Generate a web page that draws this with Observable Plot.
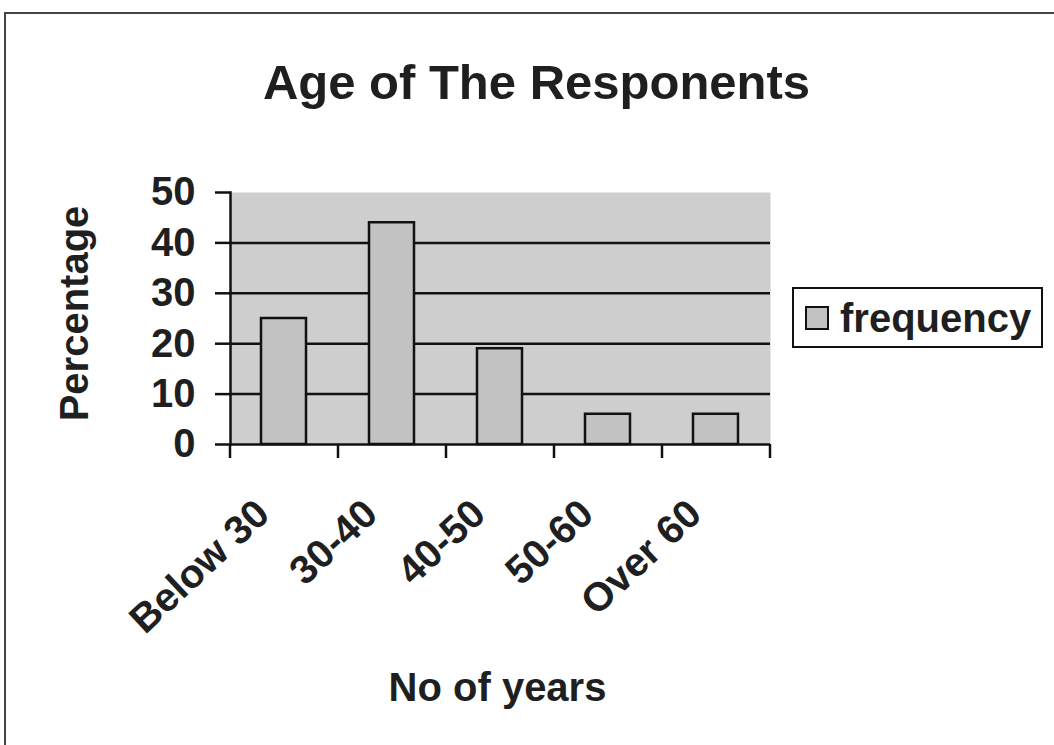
<!DOCTYPE html>
<html>
<head>
<meta charset="utf-8">
<script src="https://cdn.jsdelivr.net/npm/d3@7"></script>
<script src="https://cdn.jsdelivr.net/npm/@observablehq/plot@0.6"></script>
<style>
  html, body { margin: 0; padding: 0; background: #fff; }
  #wrap { position: relative; width: 1054px; height: 745px; overflow: hidden; font-family: "Liberation Sans", Arial, sans-serif; color: #222; }
  #border { position: absolute; left: 4px; top: 12px; width: 1100px; height: 800px; border-left: 2px solid #444; border-top: 2px solid #444; box-sizing: border-box; }
  #legend { position: absolute; left: 792px; top: 287px; width: 251px; height: 61px; border: 2px solid #111; box-sizing: border-box; background: #fff; }
  #legend .sw { position: absolute; left: 11px; top: 17px; width: 24px; height: 24px; border: 2px solid #111; box-sizing: border-box; background: #c2c2c2; }
  #legend .lb { position: absolute; left: 46px; top: 5px; font-size: 40px; font-weight: bold; line-height: 48px; white-space: nowrap; color: #1f1f1f; }
  svg { position: absolute; left: 0; top: 0; }
</style>
</head>
<body>
<div id="wrap"><div id="border"></div></div>
<script>
const categories = ["Below 30", "30-40", "40-50", "50-60", "Over 60"];
const values = [25, 44, 19, 6, 6];
const yTicks = [0, 10, 20, 30, 40, 50];
const gridValues = [10, 20, 30, 40];
const seriesName = "frequency";
const titleText = "Age of The Responents";
const yLabel = "Percentage";
const xLabel = "No of years";

const data = categories.map((c, i) => ({category: c, value: values[i]}));
const ink = "#1f1f1f";
const bold = {fontWeight: "bold", fill: ink};

const chart = Plot.plot({
  width: 1054,
  height: 745,
  marginLeft: 230,
  marginRight: 284,
  marginTop: 192,
  marginBottom: 301,
  style: {fontFamily: "'Liberation Sans', Arial, sans-serif", background: "transparent", color: ink, overflow: "visible"},
  x: {domain: categories, type: "band", paddingInner: 0.58, paddingOuter: 0.29, axis: null},
  y: {domain: [0, 50], axis: null},
  marks: [
    Plot.frame({fill: "#cecece", stroke: null}),
    Plot.ruleY(gridValues, {stroke: "#111", strokeWidth: 2.5}),
    Plot.barY(data, {x: "category", y: "value", fill: "#c2c2c2", stroke: "#111", strokeWidth: 2.5}),
    Plot.ruleY([0], {stroke: "#111", strokeWidth: 2.5}),
    Plot.frame({anchor: "left", stroke: "#111", strokeWidth: 2.5}),
    Plot.axisY({ticks: yTicks, tickSize: 15, tickPadding: 20, fontSize: 40, ...bold, stroke: "#111", strokeWidth: 2.5, label: null, tickFormat: d => d}),
    Plot.ruleX(categories, {x: d => d, dx: -54, y1: 0, y2: 0, insetBottom: -14, stroke: "#111", strokeWidth: 2.5}),
    Plot.ruleX(categories.slice(-1), {x: d => d, dx: 54, y1: 0, y2: 0, insetBottom: -14, stroke: "#111", strokeWidth: 2.5}),
    Plot.text(categories, {x: d => d, text: d => d, frameAnchor: "bottom", rotate: -43, textAnchor: "end", lineAnchor: "middle", dx: -21, dy: 63, fontSize: 40, ...bold}),
    Plot.text([yLabel], {text: d => d, frameAnchor: "left", rotate: -90, textAnchor: "middle", lineAnchor: "bottom", dx: -143, dy: -5, fontSize: 40, ...bold}),
    Plot.text([xLabel], {text: d => d, frameAnchor: "bottom", textAnchor: "middle", lineAnchor: "bottom", dx: -3, dy: 256, fontSize: 40, ...bold}),
    Plot.text([titleText], {text: d => d, frameAnchor: "top", textAnchor: "middle", lineAnchor: "bottom", dx: 36, dy: -94, fontSize: 49, ...bold})
  ]
});

const wrap = document.getElementById("wrap");
wrap.appendChild(chart);
const legend = document.createElement("div");
legend.id = "legend";
legend.innerHTML = `<div class="sw"></div><div class="lb"></div>`;
legend.querySelector(".lb").textContent = seriesName;
wrap.appendChild(legend);
</script>
</body>
</html>
